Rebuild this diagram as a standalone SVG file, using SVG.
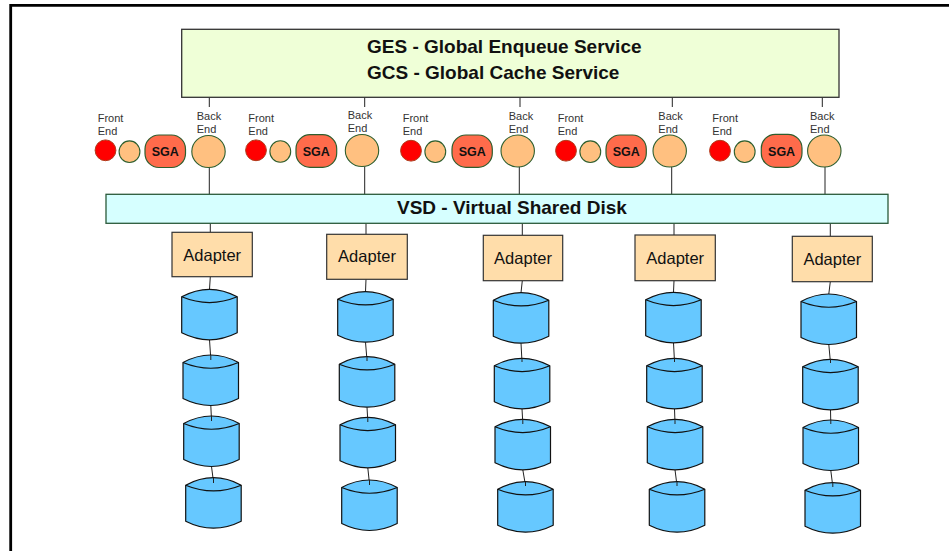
<svg xmlns="http://www.w3.org/2000/svg" xmlns:xlink="http://www.w3.org/1999/xlink" width="949" height="551" viewBox="0 0 949 551">
  <style>
    .frame { fill: none; stroke: #000; stroke-width: 2.8; }
    .wire { fill: none; stroke: #222; stroke-width: 1; }
    .svcbox { fill: #EFFFD7; stroke: #333; stroke-width: 1.3; }
    .vsdbox { fill: #D6FFFF; stroke: #2A5A3A; stroke-width: 1.3; }
    .adapter { fill: #FFDDAA; stroke: #333; stroke-width: 1.2; }
    .fe { fill: #FF0000; stroke: #B03A1A; stroke-width: 1; }
    .proc { fill: #FFC080; stroke: #2E5E2E; stroke-width: 1.1; }
    .sga { fill: #FF6B4B; stroke: #2E5E2E; stroke-width: 1.2; }
    .disk { fill: #66C8FF; stroke: #111; stroke-width: 1.2; stroke-linejoin: round; }
    .lid { fill: none; stroke: #111; stroke-width: 1.2; }
    .title { font-family: "Liberation Sans", Arial, sans-serif; font-weight: bold; font-size: 19px; fill: #111; }
    .lbl { font-family: "Liberation Sans", Arial, sans-serif; font-size: 11px; fill: #333; }
    .sgatxt { font-family: "Liberation Sans", Arial, sans-serif; font-weight: bold; font-size: 12.5px; fill: #111; text-anchor: middle; }
    .adtxt { font-family: "Liberation Sans", Arial, sans-serif; font-size: 16.5px; fill: #111; text-anchor: middle; }
  </style>
  <defs>
    <!-- disk cylinder, 55.5 wide, top peak at y=0, bottom at y=50.5 -->
    <g id="cyl">
      <path class="disk" d="M0,7.5 Q27.75,-7.5 55.5,7.5 L55.5,43.5 Q27.75,57.5 0,43.5 Z"/>
      <path class="lid" d="M0,7.5 Q27.75,19 55.5,7.5"/>
    </g>
  </defs>

  <rect width="949" height="551" fill="#fff"/>
  <path class="frame" d="M10.7,551 V5.3 H949"/>

  <!-- connectors -->
  <g id="connectors" class="wire">
    <!-- service box to back ends -->
    <line x1="209.3" y1="97.3" x2="209.3" y2="107"/>
    <line x1="364.7" y1="97.3" x2="364.7" y2="107"/>
    <line x1="520" y1="97.3" x2="520" y2="107"/>
    <line x1="672.3" y1="97.3" x2="672.3" y2="107"/>
    <line x1="822.3" y1="97.3" x2="822.3" y2="107"/>
    <!-- back ends to VSD -->
    <line x1="209.3" y1="167.5" x2="209.3" y2="194.3"/>
    <line x1="364.7" y1="166.5" x2="364.7" y2="194.3"/>
    <line x1="519.3" y1="167" x2="519.3" y2="194.3"/>
    <line x1="671.7" y1="167" x2="671.7" y2="194.3"/>
    <line x1="825" y1="167" x2="825" y2="194.3"/>
    <!-- VSD to adapters -->
    <line x1="210.3" y1="223.3" x2="210.3" y2="232.3"/>
    <line x1="366" y1="223.3" x2="366" y2="234.3"/>
    <line x1="522.3" y1="223.3" x2="522.3" y2="235.3"/>
    <line x1="674" y1="223.3" x2="674" y2="235"/>
    <line x1="830.3" y1="223.3" x2="830.3" y2="236.3"/>
    <!-- adapters to disk chains -->
    <line x1="210.3" y1="276.7" x2="209.5" y2="289.3"/>
    <line x1="209.5" y1="339.8" x2="210.8" y2="359"/>
    <line x1="210.8" y1="405.5" x2="211.5" y2="420"/>
    <line x1="211.5" y1="466.5" x2="213.5" y2="482"/>

    <line x1="366" y1="279.3" x2="365.5" y2="291.7"/>
    <line x1="365.5" y1="342.2" x2="367" y2="360.5"/>
    <line x1="367" y1="407.2" x2="367.8" y2="421"/>
    <line x1="367.8" y1="467.8" x2="369.5" y2="484"/>

    <line x1="522.3" y1="280.7" x2="521" y2="292.7"/>
    <line x1="521" y1="343.2" x2="522" y2="362"/>
    <line x1="522" y1="408.8" x2="522.8" y2="423"/>
    <line x1="522.8" y1="469.8" x2="525.5" y2="485.5"/>

    <line x1="674" y1="280.7" x2="673.5" y2="292.3"/>
    <line x1="673.5" y1="342.8" x2="674.5" y2="362"/>
    <line x1="674.5" y1="408.8" x2="675" y2="423"/>
    <line x1="675" y1="469.8" x2="677" y2="485.5"/>

    <line x1="830.3" y1="281.7" x2="828.8" y2="294"/>
    <line x1="828.8" y1="344.5" x2="830.5" y2="363"/>
    <line x1="830.5" y1="409.8" x2="830.8" y2="424"/>
    <line x1="830.8" y1="470.5" x2="832.8" y2="486.5"/>
  </g>

  <!-- global services -->
  <g id="ges-gcs">
    <rect class="svcbox" x="181.7" y="29.3" width="657.3" height="68"/>
    <text class="title" x="367" y="53.3">GES - Global Enqueue Service</text>
    <text class="title" x="367" y="79">GCS - Global Cache Service</text>
  </g>

  <!-- instance 1 -->
  <g id="instance-1">
    <text class="lbl" x="97.7" y="121.7">Front</text>
    <text class="lbl" x="97.7" y="134.7">End</text>
    <circle class="fe" cx="105.5" cy="150.3" r="10.4"/>
    <ellipse class="proc" cx="129.5" cy="151.7" rx="10.4" ry="10.8"/>
    <rect class="sga" x="145" y="135" width="40.5" height="32.5" rx="14" ry="14"/>
    <text class="sgatxt" x="165.2" y="155.9">SGA</text>
    <text class="lbl" x="196.7" y="120">Back</text>
    <text class="lbl" x="196.7" y="132.7">End</text>
    <ellipse class="proc" cx="208.5" cy="151.5" rx="16.7" ry="16"/>
  </g>

  <!-- instance 2 -->
  <g id="instance-2">
    <text class="lbl" x="248.3" y="121.7">Front</text>
    <text class="lbl" x="248.3" y="134.7">End</text>
    <circle class="fe" cx="256" cy="150.3" r="10.4"/>
    <ellipse class="proc" cx="280.3" cy="151.5" rx="10.4" ry="10.8"/>
    <rect class="sga" x="296" y="134.7" width="40.7" height="32.6" rx="14" ry="14"/>
    <text class="sgatxt" x="316.3" y="155.9">SGA</text>
    <text class="lbl" x="347.7" y="119.3">Back</text>
    <text class="lbl" x="347.7" y="132">End</text>
    <ellipse class="proc" cx="362" cy="150.5" rx="16.7" ry="16"/>
  </g>

  <!-- instance 3 -->
  <g id="instance-3">
    <text class="lbl" x="402.7" y="121.7">Front</text>
    <text class="lbl" x="402.7" y="135">End</text>
    <circle class="fe" cx="411" cy="150.7" r="10.4"/>
    <ellipse class="proc" cx="435.3" cy="151.7" rx="10.4" ry="10.8"/>
    <rect class="sga" x="452" y="135" width="40.3" height="32.3" rx="14" ry="14"/>
    <text class="sgatxt" x="472.2" y="155.9">SGA</text>
    <text class="lbl" x="508.7" y="120">Back</text>
    <text class="lbl" x="508.7" y="132.7">End</text>
    <ellipse class="proc" cx="517.7" cy="151" rx="16.7" ry="16"/>
  </g>

  <!-- instance 4 -->
  <g id="instance-4">
    <text class="lbl" x="557.7" y="121.7">Front</text>
    <text class="lbl" x="557.7" y="135">End</text>
    <circle class="fe" cx="566" cy="150.7" r="10.4"/>
    <ellipse class="proc" cx="590.3" cy="151.7" rx="10.4" ry="10.8"/>
    <rect class="sga" x="606" y="135" width="40.3" height="32.3" rx="14" ry="14"/>
    <text class="sgatxt" x="626.2" y="155.9">SGA</text>
    <text class="lbl" x="658.3" y="120">Back</text>
    <text class="lbl" x="658.3" y="132.7">End</text>
    <ellipse class="proc" cx="669.7" cy="151" rx="16.7" ry="16"/>
  </g>

  <!-- instance 5 -->
  <g id="instance-5">
    <text class="lbl" x="712.3" y="121.7">Front</text>
    <text class="lbl" x="712.3" y="135">End</text>
    <circle class="fe" cx="720" cy="150.7" r="10.4"/>
    <ellipse class="proc" cx="744.7" cy="151.7" rx="10.4" ry="10.8"/>
    <rect class="sga" x="761.3" y="134.3" width="40.7" height="33" rx="14" ry="14"/>
    <text class="sgatxt" x="781.6" y="155.9">SGA</text>
    <text class="lbl" x="810" y="120">Back</text>
    <text class="lbl" x="810" y="132.7">End</text>
    <ellipse class="proc" cx="824.3" cy="151" rx="16.7" ry="16"/>
  </g>

  <!-- virtual shared disk -->
  <g id="vsd">
    <rect class="vsdbox" x="106" y="194.3" width="782" height="29"/>
    <text class="title" x="397" y="214.3">VSD - Virtual Shared Disk</text>
  </g>

  <!-- adapters -->
  <g id="adapter-1">
    <rect class="adapter" x="172" y="232.3" width="80.3" height="44.4"/>
    <text class="adtxt" x="212.2" y="260.7">Adapter</text>
  </g>
  <g id="adapter-2">
    <rect class="adapter" x="326.7" y="234.3" width="80.6" height="45"/>
    <text class="adtxt" x="367" y="262.3">Adapter</text>
  </g>
  <g id="adapter-3">
    <rect class="adapter" x="483.3" y="235.3" width="79.4" height="45.4"/>
    <text class="adtxt" x="523" y="263.7">Adapter</text>
  </g>
  <g id="adapter-4">
    <rect class="adapter" x="635" y="235" width="80.3" height="45.7"/>
    <text class="adtxt" x="675.2" y="263.7">Adapter</text>
  </g>
  <g id="adapter-5">
    <rect class="adapter" x="792.3" y="236.3" width="80" height="45.4"/>
    <text class="adtxt" x="832.3" y="264.7">Adapter</text>
  </g>

  <!-- disk chains -->
  <g id="disks-1">
    <use xlink:href="#cyl" x="181.7" y="289.3"/>
    <use xlink:href="#cyl" x="183" y="355"/>
    <use xlink:href="#cyl" x="183.7" y="416"/>
    <use xlink:href="#cyl" x="185.7" y="477.7"/>
  </g>
  <g id="disks-2">
    <use xlink:href="#cyl" x="337.7" y="291.7"/>
    <use xlink:href="#cyl" x="339.3" y="356.7"/>
    <use xlink:href="#cyl" x="340" y="417.3"/>
    <use xlink:href="#cyl" x="341.7" y="480"/>
  </g>
  <g id="disks-3">
    <use xlink:href="#cyl" x="493.3" y="292.7"/>
    <use xlink:href="#cyl" x="494.3" y="358.3"/>
    <use xlink:href="#cyl" x="495" y="419.3"/>
    <use xlink:href="#cyl" x="497.7" y="481.7"/>
  </g>
  <g id="disks-4">
    <use xlink:href="#cyl" x="645.7" y="292.3"/>
    <use xlink:href="#cyl" x="646.7" y="358.3"/>
    <use xlink:href="#cyl" x="647.3" y="419.3"/>
    <use xlink:href="#cyl" x="649.3" y="481.7"/>
  </g>
  <g id="disks-5">
    <use xlink:href="#cyl" x="801" y="294"/>
    <use xlink:href="#cyl" x="802.7" y="359.3"/>
    <use xlink:href="#cyl" x="803" y="420"/>
    <use xlink:href="#cyl" x="805" y="482.7"/>
  </g>

  <!-- short chain links drawn over the disk lids -->
  <g id="disk-links" class="wire">
    <line x1="210.8" y1="355" x2="210.8" y2="360"/>
    <line x1="211.5" y1="416" x2="211.5" y2="421"/>
    <line x1="213.5" y1="477.7" x2="213.5" y2="483"/>
    <line x1="367" y1="356.7" x2="367" y2="361"/>
    <line x1="367.8" y1="417.3" x2="367.8" y2="422"/>
    <line x1="369.5" y1="480" x2="369.5" y2="485"/>
    <line x1="522" y1="358.3" x2="522" y2="362"/>
    <line x1="522.8" y1="419.3" x2="522.8" y2="424"/>
    <line x1="525.5" y1="481.7" x2="525.5" y2="486"/>
    <line x1="674.5" y1="358.3" x2="674.5" y2="362"/>
    <line x1="675" y1="419.3" x2="675" y2="424"/>
    <line x1="677" y1="481.7" x2="677" y2="486"/>
    <line x1="830.5" y1="359.3" x2="830.5" y2="363"/>
    <line x1="830.8" y1="420" x2="830.8" y2="424"/>
    <line x1="832.8" y1="482.7" x2="832.8" y2="487"/>
  </g>
</svg>
